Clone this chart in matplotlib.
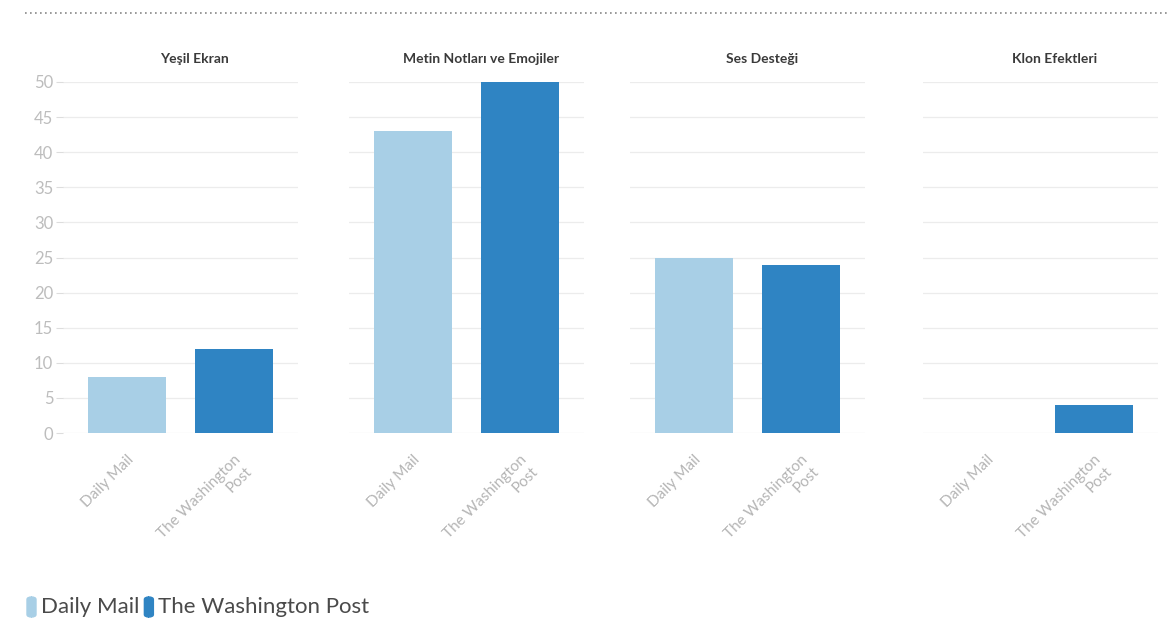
import numpy as np
import matplotlib.pyplot as plt
from matplotlib.lines import Line2D
from matplotlib.patches import FancyBboxPatch

plt.rcParams['font.family'] = ['Lato', 'DejaVu Sans']

panels = ['Yeşil Ekran', 'Metin Notları ve Emojiler', 'Ses Desteği', 'Klon Efektleri']
sources = ['Daily Mail', 'The Washington Post']
tick_labels = ['Daily Mail', 'The Washington\nPost']
daily_mail = [8, 43, 25, 0]
washington_post = [12, 50, 24, 4]
yticks = [0, 5, 10, 15, 20, 25, 30, 35, 40, 45, 50]

colors = ['#a8cfe6', '#2f84c3']

fig = plt.figure(figsize=(11.67, 6.27), dpi=100)

# panel positions (left edge in pixels)
lefts = [63, 349, 630, 923]
W, H = 1167, 627
ax_w = 235
bottom = 1 - 433 / H
height = (433 - 82) / H

for i, name in enumerate(panels):
    ax = fig.add_axes([lefts[i] / W, bottom, ax_w / W, height])
    vals = [daily_mail[i], washington_post[i]]
    ax.bar([0, 1], vals, width=0.73, color=colors, zorder=3)
    ax.set_xlim(-0.6, 1.6)
    ax.set_ylim(0, 50)
    ax.set_yticks(yticks)
    ax.grid(axis='y', color='#ececec', linewidth=0.9, zorder=0)
    for s in ax.spines.values():
        s.set_visible(False)
    ax.set_xticks([0, 1])
    ax.set_xticklabels(tick_labels, rotation=45, ha='right', va='top',
                       rotation_mode='anchor', fontsize=11, color='#b5b5b5',
                       multialignment='right')
    ax.tick_params(axis='x', length=0, pad=14)
    if i == 0:
        ax.tick_params(axis='y', length=5, color='#dddddd', labelsize=12,
                       labelcolor='#bdbdbd', pad=2)
    else:
        ax.tick_params(axis='y', length=0, labelleft=False)
    ax.set_title(name, x=0.56, fontsize=10, fontweight='bold', color='#3a3a3a', pad=14)

# dotted line at top
fig.add_artist(Line2D([25 / W, 1.0], [1 - 13 / H, 1 - 13 / H], color='#888888',
                      linestyle=(0, (1, 2)), linewidth=1.2))

# legend
lx = 27
ly = 1 - 607 / H
for c, lab in zip(colors, sources):
    fig.add_artist(FancyBboxPatch((lx / W, ly - 10 / H), 9 / W, 20 / H,
                                  boxstyle='round,pad=0,rounding_size=0.004',
                                  transform=fig.transFigure, color=c))
    t = fig.text((lx + 14) / W, ly, lab, fontsize=16, color='#4a4a4a', va='center')
    fig.canvas.draw()
    bb = t.get_window_extent()
    lx = bb.x1 + 5

fig.savefig('out.png', dpi=100, facecolor='white')
